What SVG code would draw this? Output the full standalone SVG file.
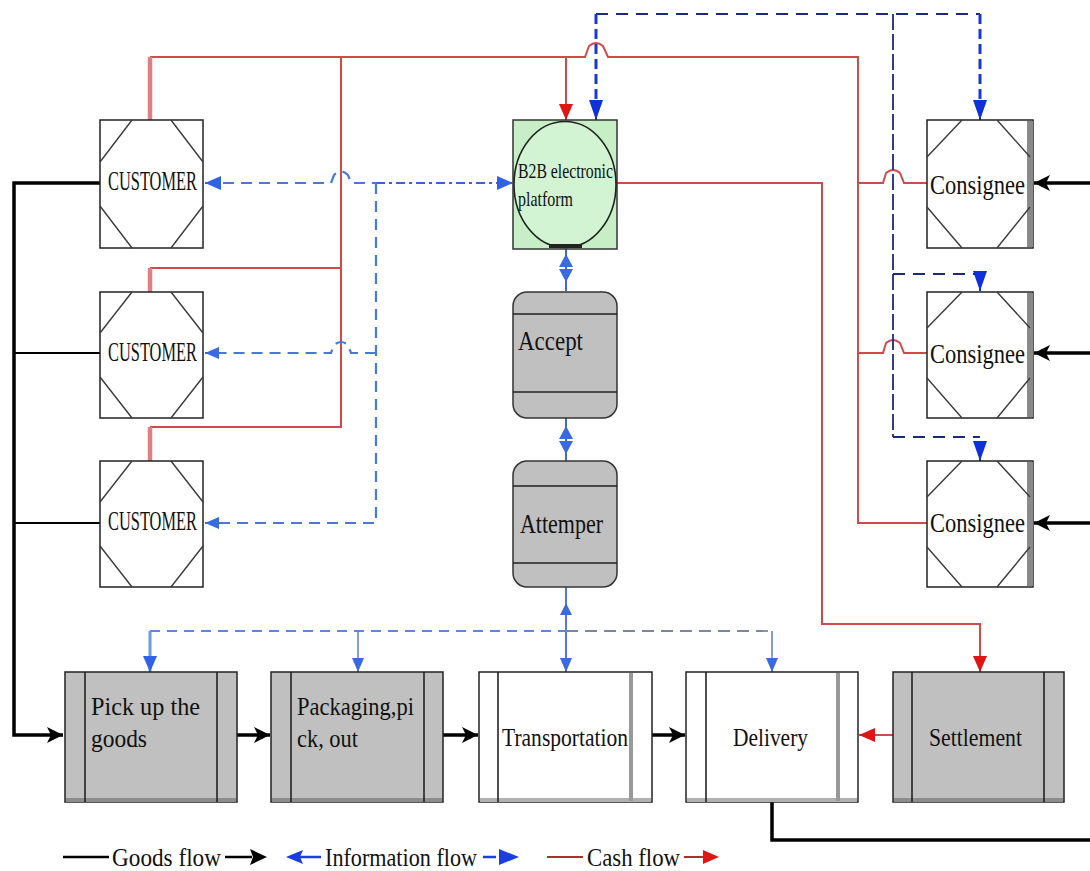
<svg xmlns="http://www.w3.org/2000/svg" width="1090" height="871" viewBox="0 0 1090 871">
<style>
  text { font-family: "Liberation Serif", "Times New Roman", serif; fill: #111; }
  .t27 { font-size: 27px; }
  .t26 { font-size: 26px; }
  .t22 { font-size: 22px; }
  .box { fill: #ffffff; stroke: #222; stroke-width: 1.5; }
  .gbox { fill: #c0c0c0; stroke: #222; stroke-width: 1.5; }
  .wave { fill: none; stroke: #3a3a3a; stroke-width: 1.4; }
  .inner { stroke: #222; stroke-width: 1.6; }
  .innerg { stroke: #999; stroke-width: 4; }
  .goods { fill: none; stroke: #000; stroke-width: 3.5; }
  .goods2 { fill: none; stroke: #000; stroke-width: 2; }
  .cash { fill: none; stroke: #d04a4a; stroke-width: 2; }
  .stub { fill: none; stroke: #e07f84; stroke-width: 4.5; }
  .info { fill: none; stroke: #4a78d8; stroke-width: 2.2; stroke-dasharray: 11 7; }
  .infod { fill: none; stroke: #3a62d8; stroke-width: 2.2; stroke-dasharray: 9 4 3 4; }
  .navy { fill: none; stroke: #1c2a7a; stroke-width: 2; stroke-dasharray: 12 8; }
  .navyv { fill: none; stroke: #1c2a7a; stroke-width: 1.8; stroke-dasharray: 16 4; }
  .bluev { fill: none; stroke: #1838d0; stroke-width: 3; stroke-dasharray: 10 5; }
  .drop { fill: none; stroke: #5a7fc8; stroke-width: 1.5; }
  .bus1 { fill: none; stroke: #5a88e0; stroke-width: 2.2; stroke-dasharray: 10 7; }
  .bus2 { fill: none; stroke: #7a86a8; stroke-width: 1.8; stroke-dasharray: 12 7; }
</style>
<defs>
  <marker id="aBlack" viewBox="0 0 16 16" refX="16" refY="8" markerWidth="16" markerHeight="16" markerUnits="userSpaceOnUse" orient="auto">
    <path d="M0,0 L16,8 L0,16 L4,8 z" fill="#000"/>
  </marker>
  <marker id="aBlue" viewBox="0 0 16 14" refX="16" refY="7" markerWidth="16" markerHeight="14" markerUnits="userSpaceOnUse" orient="auto-start-reverse">
    <path d="M0,0 L16,7 L0,14 z" fill="#2f62e8"/>
  </marker>
  <marker id="aBlueS" viewBox="0 0 14 12" refX="14" refY="6" markerWidth="14" markerHeight="12" markerUnits="userSpaceOnUse" orient="auto-start-reverse">
    <path d="M0,0 L14,6 L0,12 z" fill="#3a6ae0"/>
  </marker>
  <marker id="aNavy" viewBox="0 0 20 14" refX="20" refY="7" markerWidth="20" markerHeight="14" markerUnits="userSpaceOnUse" orient="auto">
    <path d="M0,0 L20,7 L0,14 z" fill="#1030d8"/>
  </marker>
  <marker id="aRed" viewBox="0 0 16 14" refX="16" refY="7" markerWidth="16" markerHeight="14" markerUnits="userSpaceOnUse" orient="auto">
    <path d="M0,0 L16,7 L0,14 z" fill="#e01414"/>
  </marker>
</defs>

<rect x="0" y="0" width="1090" height="871" fill="#ffffff"/>

<!-- Connectors -->
<g id="connectors">
  <!-- goods flow -->
  <path class="goods" d="M100 183 H14 V735 H63" marker-end="url(#aBlack)"/>
  <path class="goods2" d="M100 353 H14"/>
  <path class="goods2" d="M100 523 H14"/>
  <path class="goods" d="M237 735 H270" stroke-width="4" marker-end="url(#aBlack)"/>
  <path class="goods" d="M443 735 H478" stroke-width="4" marker-end="url(#aBlack)"/>
  <path class="goods" d="M652 735 H685" stroke-width="4" marker-end="url(#aBlack)"/>
  <path class="goods" d="M772 802 V840 H1090" stroke-width="4"/>
  <path class="goods" d="M1090 183 H1034" stroke-width="3" marker-end="url(#aBlack)"/>
  <path class="goods" d="M1090 353 H1034" stroke-width="3" marker-end="url(#aBlack)"/>
  <path class="goods" d="M1090 523 H1034" stroke-width="3" marker-end="url(#aBlack)"/>

  <!-- cash flow -->
  <path class="cash" d="M150 57 H585 L589 46 Q596 40 603 46 L608 57 H858 V523 H927"/>
  <path class="cash" d="M858 183 H883 L886 173 Q893 167 900 173 L904 183 H927"/>
  <path class="cash" d="M858 353 H883 L886 343 Q893 337 900 343 L904 353 H927"/>
  <path class="cash" d="M566 57 V120" marker-end="url(#aRed)"/>
  <path class="cash" d="M341 57 V427 H150"/>
  <path class="cash" d="M341 268 H150"/>
  <path class="stub" d="M150 57 V120"/>
  <path class="stub" d="M150 268 V292"/>
  <path class="stub" d="M150 427 V461"/>
  <path class="cash" d="M617 183 H822 V624 H980 V672" marker-end="url(#aRed)"/>
  <path class="cash" d="M893 735 H859" marker-end="url(#aRed)"/>

  <!-- information flow -->
  <path class="info" d="M205 183 H331 L334 175 Q341 168 348 175 L351 183 H376"/>
  <path class="infod" d="M376 183 H513" marker-end="url(#aBlue)"/>
  <path d="M220 183 H205" fill="none" stroke="#2f62e8" stroke-width="2" marker-end="url(#aBlue)"/>
  <path class="info" d="M376 183 V523 H207" stroke="#7a8ad8"/>
  <path d="M220 523 H205" fill="none" stroke="#3a6ae0" stroke-width="2" marker-end="url(#aBlueS)"/>
  <path class="info" d="M376 353 H351 L348 345 Q341 339 334 345 L331 353 H207" stroke="#7a8ad8"/>
  <path d="M220 353 H205" fill="none" stroke="#3a6ae0" stroke-width="2" marker-end="url(#aBlueS)"/>

  <path class="navy" d="M596 14 H980"/>
  <path class="bluev" d="M596 14 V100"/>
  <path d="M596 100 V120" fill="none" stroke="#1030d8" stroke-width="2" marker-end="url(#aNavy)"/>
  <path class="bluev" d="M980 14 V100"/>
  <path d="M980 100 V120" fill="none" stroke="#1030d8" stroke-width="2" marker-end="url(#aNavy)"/>
  <path class="navyv" d="M893 14 V437"/>
  <path class="navy" d="M893 274 H980"/>
  <path d="M980 274 V291" fill="none" stroke="#1030d8" stroke-width="2" marker-end="url(#aNavy)"/>
  <path class="navy" d="M893 437 H980"/>
  <path d="M980 444 V461" fill="none" stroke="#1030d8" stroke-width="2" marker-end="url(#aNavy)"/>

  <!-- vertical platform chain -->
  <path d="M566 249 V291" fill="none" stroke="#3a6ae0" stroke-width="2"/>
  <path d="M566 254 L573 267 L559 267 Z M559 269 L573 269 L566 282 Z" fill="#3a6ae0"/>
  <path d="M566 418 V461" fill="none" stroke="#3a6ae0" stroke-width="2"/>
  <path d="M566 426 L573 439 L559 439 Z M559 441 L573 441 L566 454 Z" fill="#3a6ae0"/>
  <path d="M566 587 V672" fill="none" stroke="#3a6ae0" stroke-width="1.8" marker-end="url(#aBlueS)"/>
  <path d="M566 603 L572 615 L560 615 Z" fill="#3a6ae0"/>

  <!-- bus -->
  <path class="bus1" d="M150 631 H566"/>
  <path class="bus2" d="M566 631 H772"/>
  <path d="M150 631 V672" fill="none" stroke="#6a9ae8" stroke-width="3" marker-end="url(#aBlue)"/>
  <path class="drop" d="M358 631 V672" marker-end="url(#aBlueS)"/>
  <path class="drop" d="M772 631 V672" marker-end="url(#aBlueS)"/>
</g>

<!-- Customers -->
<g id="customer1">
  <rect class="box" x="100" y="120" width="103" height="128"/>
  <path class="wave" d="M132 120 L100 162 M171 120 L203 162 M100 206 L132 248 M203 206 L171 248"/>
  <text class="t27" x="108" y="190" textLength="89" lengthAdjust="spacingAndGlyphs">CUSTOMER</text>
</g>
<g id="customer2">
  <rect class="box" x="100" y="292" width="103" height="126"/>
  <path class="wave" d="M132 292 L100 333 M171 292 L203 333 M100 377 L132 418 M203 377 L171 418"/>
  <text class="t27" x="108" y="361" textLength="89" lengthAdjust="spacingAndGlyphs">CUSTOMER</text>
</g>
<g id="customer3">
  <rect class="box" x="100" y="461" width="103" height="126"/>
  <path class="wave" d="M132 461 L100 502 M171 461 L203 502 M100 546 L132 587 M203 546 L171 587"/>
  <text class="t27" x="108" y="530" textLength="89" lengthAdjust="spacingAndGlyphs">CUSTOMER</text>
</g>

<!-- B2B platform -->
<g id="b2b">
  <rect x="513" y="120" width="104" height="129" fill="#c6efc6" stroke="#333" stroke-width="1.5"/>
  <ellipse cx="565" cy="184.5" rx="51" ry="63" fill="#d2f4d2" stroke="#222" stroke-width="1.6"/>
  <rect x="549" y="244" width="33" height="4" fill="#222"/>
  <text class="t22" x="518" y="178" textLength="95" lengthAdjust="spacingAndGlyphs">B2B electronic</text>
  <text class="t22" x="518" y="206" textLength="55" lengthAdjust="spacingAndGlyphs">platform</text>
</g>

<!-- Accept -->
<g id="accept">
  <rect x="513" y="292" width="104" height="126" rx="14" ry="14" fill="#c0c0c0" stroke="#333" stroke-width="1.5"/>
  <line class="inner" x1="513" y1="314" x2="617" y2="314" stroke-width="2"/>
  <line class="inner" x1="513" y1="392" x2="617" y2="392" stroke-width="2"/>
  <text class="t27" x="518" y="350" textLength="65" lengthAdjust="spacingAndGlyphs">Accept</text>
</g>

<!-- Attemper -->
<g id="attemper">
  <rect x="513" y="461" width="104" height="126" rx="14" ry="14" fill="#c0c0c0" stroke="#333" stroke-width="1.5"/>
  <line class="inner" x1="513" y1="486" x2="617" y2="486" stroke-width="3.5"/>
  <line class="inner" x1="513" y1="563" x2="617" y2="563" stroke-width="2"/>
  <text class="t27" x="520" y="533" textLength="83" lengthAdjust="spacingAndGlyphs">Attemper</text>
</g>

<!-- Consignees -->
<g id="consignee1">
  <rect class="box" x="927" y="120" width="106" height="128"/>
  <rect x="1027" y="121" width="6" height="126" fill="#8a8a8a"/>
  <path class="wave" d="M962 120 L927 157 M997 120 L1030 157 M927 207 L962 248 M1030 207 L997 248"/>
  <text class="t27" x="930" y="194" textLength="95" lengthAdjust="spacingAndGlyphs">Consignee</text>
</g>
<g id="consignee2">
  <rect class="box" x="927" y="292" width="106" height="126"/>
  <rect x="1027" y="293" width="6" height="124" fill="#8a8a8a"/>
  <path class="wave" d="M962 292 L927 328 M997 292 L1030 328 M927 378 L962 418 M1030 378 L997 418"/>
  <text class="t27" x="930" y="363" textLength="95" lengthAdjust="spacingAndGlyphs">Consignee</text>
</g>
<g id="consignee3">
  <rect class="box" x="927" y="461" width="106" height="126"/>
  <rect x="1027" y="462" width="6" height="124" fill="#8a8a8a"/>
  <path class="wave" d="M962 461 L927 497 M997 461 L1030 497 M927 547 L962 587 M1030 547 L997 587"/>
  <text class="t27" x="930" y="532" textLength="95" lengthAdjust="spacingAndGlyphs">Consignee</text>
</g>

<!-- Bottom process row -->
<g id="pickup">
  <rect class="gbox" x="65" y="672" width="172" height="130"/>
  <rect x="66" y="798" width="170" height="4" fill="#8c8c8c"/>
  <line class="inner" x1="85" y1="672" x2="85" y2="802"/>
  <line class="inner" x1="217" y1="672" x2="217" y2="802"/>
  <text class="t26" x="91" y="715" textLength="109" lengthAdjust="spacingAndGlyphs">Pick up the</text>
  <text class="t26" x="91" y="747" textLength="56" lengthAdjust="spacingAndGlyphs">goods</text>
</g>
<g id="packaging">
  <rect class="gbox" x="271" y="672" width="172" height="130"/>
  <rect x="272" y="798" width="170" height="4" fill="#8c8c8c"/>
  <line class="inner" x1="291" y1="672" x2="291" y2="802"/>
  <line class="inner" x1="424" y1="672" x2="424" y2="802"/>
  <text class="t26" x="297" y="715" textLength="117" lengthAdjust="spacingAndGlyphs">Packaging,pi</text>
  <text class="t26" x="297" y="747" textLength="61" lengthAdjust="spacingAndGlyphs">ck, out</text>
</g>
<g id="transportation">
  <rect class="box" x="479" y="672" width="173" height="130"/>
  <rect x="480" y="798" width="171" height="4" fill="#b0b0b0"/>
  <line class="inner" x1="498" y1="672" x2="498" y2="802"/>
  <line class="innerg" x1="631" y1="673" x2="631" y2="801"/>
  <text class="t26" x="502" y="746" textLength="126" lengthAdjust="spacingAndGlyphs">Transportation</text>
</g>
<g id="delivery">
  <rect class="box" x="686" y="672" width="172" height="130"/>
  <rect x="687" y="798" width="170" height="4" fill="#b0b0b0"/>
  <line class="inner" x1="706" y1="672" x2="706" y2="802"/>
  <line class="innerg" x1="838" y1="673" x2="838" y2="801"/>
  <text class="t26" x="733" y="746" textLength="75" lengthAdjust="spacingAndGlyphs">Delivery</text>
</g>
<g id="settlement">
  <rect class="gbox" x="893" y="672" width="171" height="130"/>
  <rect x="894" y="798" width="169" height="4" fill="#8c8c8c"/>
  <line class="inner" x1="912" y1="672" x2="912" y2="802"/>
  <line class="inner" x1="1044" y1="672" x2="1044" y2="802"/>
  <text class="t26" x="929" y="746" textLength="93" lengthAdjust="spacingAndGlyphs">Settlement</text>
</g>

<!-- Legend -->
<g id="legend">
  <line x1="63" y1="857" x2="109" y2="857" stroke="#000" stroke-width="2.5"/>
  <text class="t26" x="112" y="866" textLength="109" lengthAdjust="spacingAndGlyphs">Goods flow</text>
  <line x1="225" y1="857" x2="252" y2="857" stroke="#000" stroke-width="2.5"/>
  <path d="M250 849 L267 857 L250 865 L253 857 Z" fill="#000"/>
  <path d="M286 857 L303 850 L300 857 L303 864 Z" fill="#1a3ee0"/>
  <line x1="300" y1="857" x2="321" y2="857" stroke="#1a3ee0" stroke-width="2.5"/>
  <text class="t26" x="325" y="866" textLength="152" lengthAdjust="spacingAndGlyphs">Information flow</text>
  <line x1="483" y1="857" x2="496" y2="857" stroke="#1a3ee0" stroke-width="2.5"/>
  <path d="M499 849 L519 857 L499 865 Z" fill="#1a3ee0"/>
  <line x1="547" y1="857" x2="583" y2="857" stroke="#a83030" stroke-width="2"/>
  <text class="t26" x="587" y="866" textLength="93" lengthAdjust="spacingAndGlyphs">Cash flow</text>
  <line x1="684" y1="857" x2="706" y2="857" stroke="#a83030" stroke-width="2"/>
  <path d="M703 850 L719 857 L703 864 Z" fill="#e01414"/>
</g>
</svg>
